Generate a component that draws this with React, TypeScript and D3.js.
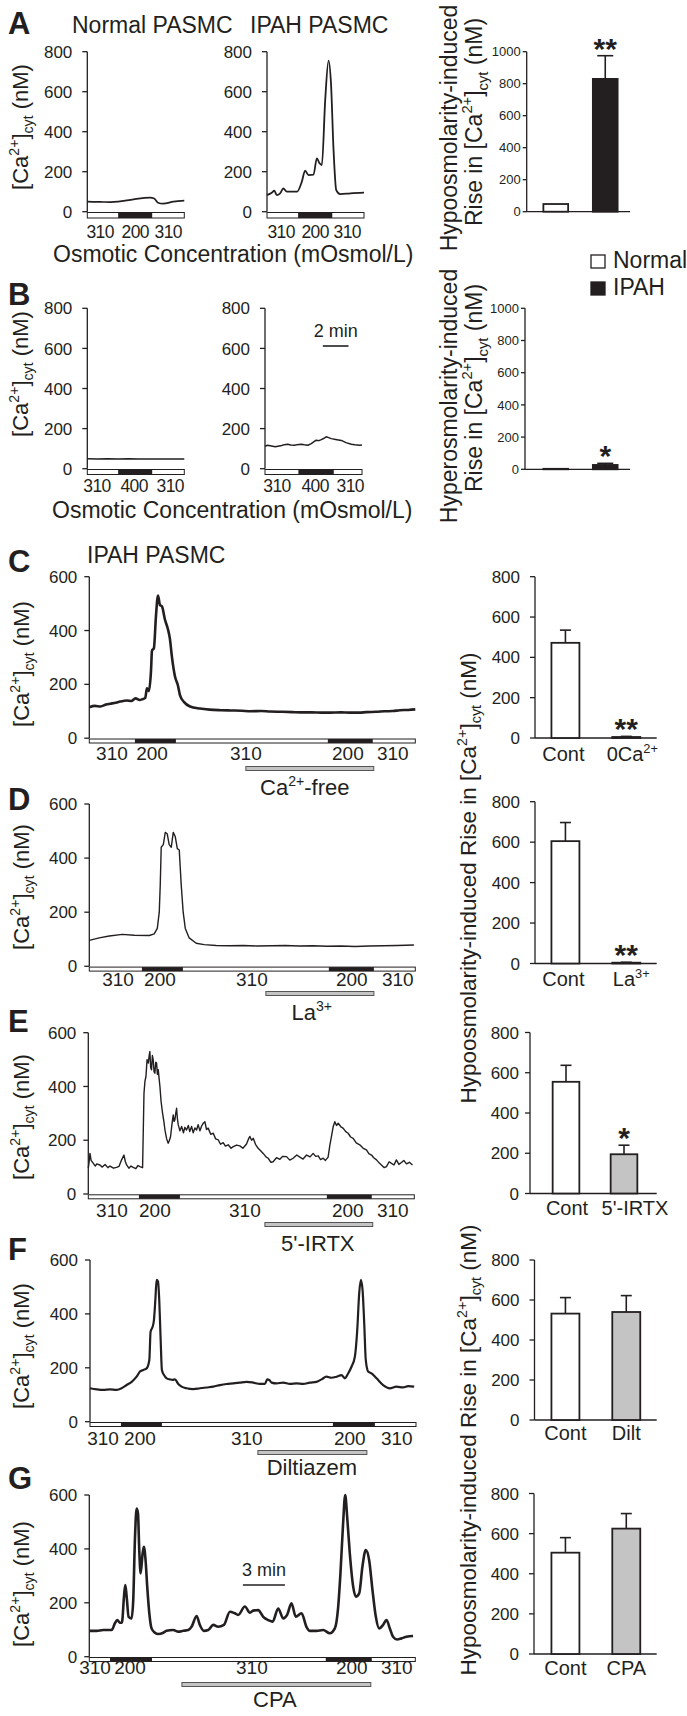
import React from 'react';
import * as d3 from 'd3';

type P = [number, number];
type Seg = { t: string; k?: 'sup' | 'sub' };

const FONT = '"Liberation Sans", Arial, Helvetica, sans-serif';
const INK = '#231f20';
const GRAY = '#c4c4c4';

// ---------------- Trace data: [time (min), [Ca2+]cyt (nM)] ----------------
const A_NORMAL: P[] = [[0,50],[1.0,49],[1.8,48],[2.4,50],[3.6,62],[4.9,70],[5.2,66],[5.5,45],[5.9,40],[6.7,50],[7.55,55]];
const A_IPAH: P[] = [[0,83],[0.37,95],[0.57,105],[0.76,83],[1.0,90],[1.17,108],[1.27,117],[1.54,100],[2.34,100],[2.71,150],[2.97,205],[3.23,183],[3.62,185],[3.88,267],[4.09,242],[4.27,233],[4.53,558],[4.79,755],[4.98,642],[5.18,308],[5.39,108],[5.7,88],[6.5,92],[7.55,95]];
const B_NORMAL: P[] = [[0,50],[0.8,49],[1.6,50],[2.4,49],[3.2,50],[4.0,48],[4.8,49],[5.6,48],[6.4,49],[7.2,48],[7.55,48]];
const B_IPAH: P[] = [[0,112],[0.2,117],[0.5,113],[0.8,109],[1.0,112],[1.3,116],[1.5,120],[1.77,122],[2.0,118],[2.29,117],[2.5,120],[2.81,122],[3.05,119],[3.34,117],[3.6,125],[3.98,142],[4.2,140],[4.38,145],[4.6,152],[4.77,159],[4.95,155],[5.16,150],[5.5,146],[5.94,141],[6.3,130],[6.72,122],[7.0,119],[7.37,117],[7.55,118]];
const C_TRACE: P[] = [[0,115],[0.4,120],[0.8,118],[1.2,125],[1.5,128],[1.9,132],[2.2,136],[2.7,140],[3.0,138],[3.3,148],[3.6,142],[3.8,145],[4.0,150],[4.12,185],[4.26,175],[4.41,250],[4.48,325],[4.62,335],[4.76,450],[4.91,530],[5.05,495],[5.19,490],[5.41,440],[5.62,405],[5.76,370],[5.91,300],[6.12,230],[6.34,195],[6.48,160],[6.76,135],[7.2,118],[7.9,110],[8.6,106],[9.4,104],[10.1,103],[10.9,102],[11.5,100],[12.3,101],[12.9,99],[13.8,98],[14.5,97],[15.1,96],[15.9,96],[16.6,95],[17.2,95],[18.0,96],[18.6,95],[19.3,95],[19.8,97],[20.5,98],[21.1,100],[21.7,101],[22.2,104],[22.8,105],[23.3,107]];
const D_TRACE: P[] = [[0,96],[0.71,105],[1.43,112],[2.36,118],[3.21,115],[4.29,114],[4.64,120],[4.86,140],[5.0,200],[5.07,300],[5.14,440],[5.29,450],[5.43,495],[5.57,490],[5.71,450],[5.86,440],[6.0,495],[6.14,480],[6.29,435],[6.43,430],[6.57,300],[6.71,200],[6.86,140],[7.14,105],[7.64,85],[8.21,80],[9.07,77],[10,76],[11,77],[12,75],[13,76],[14,77],[15,75],[16,76],[17,74],[18,75],[19,73],[20,75],[21,76],[22,77],[23.2,79]];
const E_TRACE: P[] = [[0,96],[0.06,120],[0.12,151],[0.2,125],[0.36,114],[0.5,104],[0.6,112],[0.83,108],[1.0,100],[1.2,110],[1.4,98],[1.55,104],[1.8,96],[2.02,99],[2.2,103],[2.38,127],[2.55,145],[2.65,120],[2.74,108],[2.9,96],[3.05,104],[3.21,99],[3.4,94],[3.55,106],[3.69,102],[3.88,98],[3.98,375],[4.05,420],[4.12,437],[4.2,500],[4.29,487],[4.35,515],[4.4,530],[4.46,470],[4.52,462],[4.58,515],[4.64,499],[4.7,455],[4.76,449],[4.82,490],[4.88,487],[4.94,445],[5.0,462],[5.06,430],[5.12,400],[5.2,345],[5.31,300],[5.4,270],[5.48,238],[5.6,205],[5.71,189],[5.8,200],[5.88,214],[5.98,260],[6.07,294],[6.13,270],[6.19,276],[6.25,300],[6.31,319],[6.37,280],[6.43,257],[6.55,235],[6.67,251],[6.8,228],[6.9,248],[7.02,238],[7.15,255],[7.25,232],[7.38,251],[7.5,228],[7.62,246],[7.74,238],[7.85,258],[7.98,235],[8.1,253],[8.2,262],[8.33,269],[8.45,240],[8.57,245],[8.75,222],[8.93,226],[9.1,205],[9.29,201],[9.45,185],[9.64,191],[9.8,178],[10.0,183],[10.2,170],[10.36,176],[10.6,182],[10.83,179],[11.05,170],[11.31,186],[11.45,205],[11.55,214],[11.67,200],[11.79,207],[11.95,185],[12.14,170],[12.3,162],[12.5,151],[12.7,138],[12.86,133],[13.05,118],[13.21,120],[13.45,135],[13.69,129],[13.9,140],[14.17,139],[14.4,126],[14.64,133],[14.9,145],[15.12,137],[15.35,130],[15.6,145],[15.85,138],[16.07,151],[16.25,140],[16.43,142],[16.6,128],[16.79,133],[16.95,125],[17.14,137],[17.26,180],[17.38,214],[17.5,250],[17.62,269],[17.74,255],[17.86,263],[18.05,250],[18.21,245],[18.4,232],[18.57,226],[18.75,212],[18.93,207],[19.15,190],[19.4,183],[19.65,170],[19.88,164],[20.05,150],[20.24,145],[20.4,135],[20.6,127],[20.8,115],[20.95,108],[21.15,98],[21.31,102],[21.5,120],[21.67,114],[21.85,108],[22.02,127],[22.2,110],[22.38,117],[22.55,125],[22.74,112],[22.95,118],[23.17,108]];
const F_TRACE: P[] = [[0,124],[0.48,120],[0.95,118],[1.43,120],[1.9,118],[2.26,124],[2.62,136],[2.98,148],[3.33,167],[3.57,186],[3.81,192],[4.05,198],[4.24,229],[4.33,334],[4.48,353],[4.57,377],[4.67,451],[4.76,526],[4.86,520],[4.95,451],[5.05,303],[5.14,192],[5.29,173],[5.48,161],[5.71,157],[5.9,155],[6.07,157],[6.31,140],[6.55,130],[6.9,124],[7.38,121],[7.86,124],[8.33,127],[8.81,130],[9.29,136],[9.76,140],[10.24,142],[10.71,145],[11.19,148],[11.67,145],[12.14,140],[12.5,140],[12.67,157],[12.81,155],[12.98,145],[13.33,142],[13.81,145],[14.29,140],[14.76,142],[15.24,140],[15.71,145],[16.19,148],[16.55,157],[16.9,167],[17.26,163],[17.62,167],[17.98,173],[18.21,161],[18.45,179],[18.69,204],[18.93,241],[19.1,340],[19.24,476],[19.36,526],[19.48,489],[19.6,365],[19.71,229],[19.88,186],[20.12,179],[20.48,161],[20.95,136],[21.43,124],[21.9,130],[22.38,127],[22.74,132],[23.17,130]];
const G_TRACE: P[] = [[0,96],[0.52,96],[1.0,99],[1.6,99],[1.83,124],[2.0,136],[2.19,126],[2.33,126],[2.48,223],[2.57,266],[2.67,223],[2.81,148],[3.02,142],[3.14,210],[3.26,433],[3.38,550],[3.48,532],[3.57,396],[3.67,309],[3.81,383],[3.9,408],[4.02,359],[4.14,260],[4.29,161],[4.45,105],[4.69,89],[4.93,84],[5.29,89],[5.52,96],[6.0,99],[6.36,93],[6.71,96],[7.07,99],[7.31,111],[7.67,151],[7.9,118],[8.19,96],[8.5,99],[8.86,118],[9.21,111],[9.62,118],[10.05,167],[10.4,161],[10.64,155],[11.12,186],[11.48,163],[11.71,171],[12.07,173],[12.43,148],[12.79,136],[13.1,130],[13.5,179],[13.86,142],[14.14,155],[14.45,198],[14.76,148],[15.17,161],[15.52,111],[15.76,96],[16.24,96],[16.71,99],[17.19,87],[17.55,105],[17.79,186],[17.95,309],[18.14,495],[18.29,600],[18.43,519],[18.62,383],[18.86,260],[19.05,223],[19.29,235],[19.52,334],[19.76,396],[20.0,359],[20.24,247],[20.48,148],[20.71,105],[21.0,118],[21.24,136],[21.48,105],[21.71,74],[22.0,64],[22.31,68],[22.67,74],[23.14,77]];

// ---------------- Osmotic protocol (black = hypo/hyper segment, min) ----------------
const OSMO_A_N: P[] = [[2.4, 5.05]];
const OSMO_A_I: P[] = [[2.42, 5.08]];
const OSMO_B_N: P[] = [[2.4, 5.05]];
const OSMO_B_I: P[] = [[2.6, 5.35]];
const OSMO_C: P[] = [[3.26, 6.19], [17.05, 20.26]];
const OSMO_D: P[] = [[3.76, 6.69], [17.12, 20.34]];
const OSMO_E: P[] = [[3.62, 6.55], [17.05, 20.26]];
const OSMO_F: P[] = [[2.21, 5.14], [17.36, 20.36]];
const OSMO_G: P[] = [[1.48, 4.48], [16.9, 20.19]];

const LAB_HYPO_3 = ['310', '200', '310'];
const LAB_HYPER_3 = ['310', '400', '310'];
const LAB_5 = ['310', '200', '310', '200', '310'];
const LABT_A_N = [1.0, 3.73, 6.3];
const LABT_A_I = [1.1, 3.75, 6.25];
const LABT_B_N = [0.76, 3.65, 6.46];
const LABT_B_I = [0.94, 3.9, 6.64];
const LABT_C = [1.62, 4.48, 11.19, 18.48, 21.69];
const LABT_D = [2.05, 5.05, 11.62, 18.76, 22.05];
const LABT_E = [1.69, 4.76, 11.19, 18.55, 21.76];
const LABT_F = [0.93, 3.57, 11.21, 18.57, 21.93];
const LABT_G = [0.41, 2.91, 11.62, 18.76, 21.98];

// drug application bars (min)
const DRUG_C: P = [11.19, 20.33];
const DRUG_D: P = [12.62, 20.34];
const DRUG_E: P = [12.62, 20.33];
const DRUG_F: P = [12.0, 19.79];
const DRUG_G: P = [6.62, 20.12];

// ---------------- Bar data (mean ± SE, nM) ----------------
const BAR_A_CATS = ['Normal', 'IPAH'];
const BAR_A_MEAN = [48, 830];
const BAR_A_ERR = [0, 145];
const BAR_B_MEAN = [3, 27];
const BAR_B_ERR = [0, 10];
const BAR_C_CATS = ['Cont', '0Ca'];
const BAR_C_MEAN = [472, 5];
const BAR_C_ERR = [63, 3];
const BAR_D_CATS = ['Cont', 'La'];
const BAR_D_MEAN = [605, 4];
const BAR_D_ERR = [92, 2];
const BAR_E_CATS = ['Cont', "5'-IRTX"];
const BAR_E_MEAN = [555, 195];
const BAR_E_ERR = [82, 45];
const BAR_F_CATS = ['Cont', 'Dilt'];
const BAR_F_MEAN = [532, 540];
const BAR_F_ERR = [80, 82];
const BAR_G_CATS = ['Cont', 'CPA'];
const BAR_G_MEAN = [505, 625];
const BAR_G_ERR = [75, 75];

const TICKS_TRACE_AB = [0, 200, 400, 600, 800];
const TICKS_TRACE = [0, 200, 400, 600];
const TICKS_BAR_AB = [0, 200, 400, 600, 800, 1000];
const TICKS_BAR = [0, 200, 400, 600, 800];

const CA_SEGS: Seg[] = [{ t: '[Ca' }, { t: '2+', k: 'sup' }, { t: ']' }, { t: 'cyt', k: 'sub' }, { t: ' (nM)' }];
const RISE_SEGS: Seg[] = [{ t: 'Rise in [Ca' }, { t: '2+', k: 'sup' }, { t: ']' }, { t: 'cyt', k: 'sub' }, { t: ' (nM)' }];
const HYPO_FULL: Seg[] = [{ t: 'Hypoosmolarity-induced Rise in [Ca' }, { t: '2+', k: 'sup' }, { t: ']' }, { t: 'cyt', k: 'sub' }, { t: ' (nM)' }];

function Rich({ segs, size }: { segs: Seg[]; size: number }) {
  let cur = 0;
  return (
    <>
      {segs.map((s, i) => {
        const target = s.k === 'sup' ? -0.42 * size : s.k === 'sub' ? 0.24 * size : 0;
        const dy = target - cur;
        cur = target;
        return (
          <tspan key={i} dy={dy} fontSize={s.k ? size * 0.64 : size}>
            {s.t}
          </tspan>
        );
      })}
    </>
  );
}

function VText({ x, y, segs, size }: { x: number; y: number; segs: Seg[]; size: number }) {
  return (
    <text transform={`translate(${x},${y}) rotate(-90)`} textAnchor="middle" fontSize={size}>
      <Rich segs={segs} size={size} />
    </text>
  );
}

type TraceProps = {
  ax: number; width: number; tMax: number;
  y0: number; yTop: number; vTop: number; ticks: number[];
  data: P[]; sw: number; curve: d3.CurveFactory;
  segs: P[]; labT: number[]; labs: string[]; labY: number; labFont?: number; labSpacing?: number;
  barH?: number; tickGap?: number;
  drug?: P; drugY?: number; drugLabel?: Seg[]; drugLabT?: number; drugLabY?: number;
  scaleBar?: P; scaleY?: number; scaleText?: string;
};

function Trace(p: TraceProps) {
  const x = d3.scaleLinear().domain([0, p.tMax]).range([p.ax, p.ax + p.width]);
  const y = d3.scaleLinear().domain([0, p.vTop]).range([p.y0, p.yTop]);
  const line = d3.line<P>().x(d => x(d[0])).y(d => y(d[1])).curve(p.curve);
  const bh = p.barH ?? 4.5;
  const gap = p.tickGap ?? 12;
  return (
    <g>
      <line x1={p.ax} x2={p.ax} y1={y(p.vTop)} y2={p.y0} stroke={INK} strokeWidth={1.3} />
      {p.ticks.map(t => (
        <g key={t}>
          <line x1={p.ax - 5} x2={p.ax} y1={y(t)} y2={y(t)} stroke={INK} strokeWidth={1.3} />
          <text x={p.ax - gap} y={y(t)} dy="0.36em" textAnchor="end" fontSize={17}>{t}</text>
        </g>
      ))}
      <rect x={x(0)} y={p.y0 + 0.8} width={x(p.tMax) - x(0)} height={bh} fill="#fff" stroke={INK} strokeWidth={1} />
      {p.segs.map((s, i) => (
        <rect key={i} x={x(s[0])} y={p.y0 + 0.8} width={x(s[1]) - x(s[0])} height={bh} fill={INK} />
      ))}
      {p.labT.map((t, i) => (
        <text key={i} x={x(t)} y={p.labY} textAnchor="middle" fontSize={p.labFont ?? 19}
          letterSpacing={p.labSpacing ?? 0}>{p.labs[i]}</text>
      ))}
      {p.drug && (
        <rect x={x(p.drug[0])} y={p.drugY} width={x(p.drug[1]) - x(p.drug[0])} height={4} fill={GRAY} stroke="#555" strokeWidth={1} />
      )}
      {p.drugLabel && (
        <text x={x(p.drugLabT ?? 0)} y={p.drugLabY} textAnchor="middle" fontSize={22}>
          <Rich segs={p.drugLabel} size={22} />
        </text>
      )}
      {p.scaleBar && (
        <g>
          <line x1={x(p.scaleBar[0])} x2={x(p.scaleBar[1])} y1={p.scaleY} y2={p.scaleY} stroke={INK} strokeWidth={1.6} />
          <text x={(x(p.scaleBar[0]) + x(p.scaleBar[1])) / 2} y={(p.scaleY ?? 0) - 9} textAnchor="middle" fontSize={18}>{p.scaleText}</text>
        </g>
      )}
      <path d={line(p.data) ?? ''} fill="none" stroke={INK} strokeWidth={p.sw} strokeLinejoin="round" />
    </g>
  );
}

type BarProps = {
  ax: number; xEnd: number; band: P; pi: number; po: number;
  y0: number; yTop: number; vTop: number; ticks: number[];
  tickFont: number; tickLen: number; tickGap: number;
  cats: string[]; means: number[]; errs: number[]; fills: string[];
  capW: number; stars?: string[]; starSize?: number;
  catLabels?: Seg[][]; catY?: number; catDx?: number[];
};

function BarChart(p: BarProps) {
  const y = d3.scaleLinear().domain([0, p.vTop]).range([p.y0, p.yTop]);
  const xb = d3.scaleBand<string>().domain(p.cats).range(p.band).paddingInner(p.pi).paddingOuter(p.po);
  const bw = xb.bandwidth();
  return (
    <g>
      <line x1={p.ax} x2={p.ax} y1={y(p.vTop)} y2={p.y0} stroke={INK} strokeWidth={1.3} />
      <line x1={p.ax} x2={p.xEnd} y1={p.y0} y2={p.y0} stroke={INK} strokeWidth={1.3} />
      {p.ticks.map(t => (
        <g key={t}>
          <line x1={p.ax - p.tickLen} x2={p.ax} y1={y(t)} y2={y(t)} stroke={INK} strokeWidth={1.3} />
          <text x={p.ax - p.tickGap} y={y(t)} dy="0.36em" textAnchor="end" fontSize={p.tickFont}>{t}</text>
        </g>
      ))}
      {p.cats.map((c, i) => {
        const x0 = xb(c) ?? 0;
        const cx = x0 + bw / 2;
        const top = y(p.means[i]);
        const et = y(p.means[i] + p.errs[i]);
        return (
          <g key={c}>
            {p.errs[i] > 0 && (
              <g>
                <line x1={cx} x2={cx} y1={top} y2={et} stroke={INK} strokeWidth={1.6} />
                <line x1={cx - p.capW / 2} x2={cx + p.capW / 2} y1={et} y2={et} stroke={INK} strokeWidth={1.6} />
              </g>
            )}
            <rect x={x0} y={top} width={bw} height={p.y0 - top} fill={p.fills[i]} stroke={INK} strokeWidth={1.8} />
            {p.stars && p.stars[i] && (
              <text x={cx} y={et + 3} textAnchor="middle" fontSize={p.starSize ?? 30} fontWeight="bold">{p.stars[i]}</text>
            )}
            {p.catLabels && (
              <text x={cx + (p.catDx ? p.catDx[i] : 0)} y={p.catY} textAnchor="middle" fontSize={20}>
                <Rich segs={p.catLabels[i]} size={20} />
              </text>
            )}
          </g>
        );
      })}
    </g>
  );
}

const LETTER = (l: string, yb: number) => (
  <text x={8} y={yb} fontSize={31} fontWeight="bold">{l}</text>
);

export default function App() {
  const TW = 326;
  const TM = 23.3;
  const cgBand: P = [535, 656.7];
  return (
    <svg width={687} height={1716} style={{ position: 'absolute', left: 0, top: 0, background: '#fff' }}
      fontFamily={FONT} fill={INK}>
      <rect width={687} height={1716} fill="#fff" />

      {/* ---------------- A ---------------- */}
      {LETTER('A', 34)}
      <text x={72} y={33} fontSize={23}>Normal PASMC</text>
      <text x={250} y={33} fontSize={23}>IPAH PASMC</text>
      <VText x={28} y={127} segs={CA_SEGS} size={22} />
      <Trace ax={87.3} width={97} tMax={7.55} y0={211.7} yTop={51.7} vTop={800} ticks={TICKS_TRACE_AB}
        data={A_NORMAL} sw={1.7} curve={d3.curveMonotoneX} segs={OSMO_A_N} labT={LABT_A_N} labs={LAB_HYPO_3} labY={238}
        labFont={17.5} labSpacing={-0.6} barH={5.5} tickGap={15} />
      <Trace ax={267} width={97} tMax={7.55} y0={211.7} yTop={51.7} vTop={800} ticks={TICKS_TRACE_AB}
        data={A_IPAH} sw={1.8} curve={d3.curveMonotoneX} segs={OSMO_A_I} labT={LABT_A_I} labs={LAB_HYPO_3} labY={238}
        labFont={17.5} labSpacing={-0.6} barH={5.5} tickGap={15} />
      <text x={53} y={262} fontSize={23}>Osmotic Concentration (mOsmol/L)</text>
      <text transform="translate(457,128) rotate(-90)" textAnchor="middle" fontSize={23}>Hypoosmolarity-induced</text>
      <VText x={482} y={122} segs={RISE_SEGS} size={23} />
      <BarChart ax={526.7} xEnd={630} band={[531, 630]} pi={0.5} po={0.25} y0={211.7} yTop={51.7} vTop={1000}
        ticks={TICKS_BAR_AB} tickFont={13} tickLen={4} tickGap={6} cats={BAR_A_CATS} means={BAR_A_MEAN} errs={BAR_A_ERR}
        fills={['#fff', INK]} capW={16} stars={['', '**']} />

      {/* legend */}
      <rect x={591} y={255} width={14} height={13} fill="#fff" stroke={INK} strokeWidth={1.3} />
      <text x={613} y={268} fontSize={23}>Normal</text>
      <rect x={591} y={282} width={14} height={13} fill={INK} stroke={INK} strokeWidth={1.3} />
      <text x={613} y={295} fontSize={23}>IPAH</text>

      {/* ---------------- B ---------------- */}
      {LETTER('B', 305)}
      <VText x={28} y={374} segs={CA_SEGS} size={22} />
      <Trace ax={87.3} width={97} tMax={7.55} y0={468.7} yTop={308.3} vTop={800} ticks={TICKS_TRACE_AB}
        data={B_NORMAL} sw={1.5} curve={d3.curveLinear} segs={OSMO_B_N} labT={LABT_B_N} labs={LAB_HYPER_3} labY={492}
        labFont={17.5} labSpacing={-0.6} barH={5} tickGap={15} />
      <Trace ax={265} width={97} tMax={7.55} y0={468.7} yTop={308.3} vTop={800} ticks={TICKS_TRACE_AB}
        data={B_IPAH} sw={1.5} curve={d3.curveLinear} segs={OSMO_B_I} labT={LABT_B_I} labs={LAB_HYPER_3} labY={492}
        labFont={17.5} labSpacing={-0.6} barH={5} tickGap={15}
        scaleBar={[4.5, 6.5]} scaleY={346} scaleText="2 min" />
      <text x={52} y={518} fontSize={23}>Osmotic Concentration (mOsmol/L)</text>
      <text transform="translate(457,396) rotate(-90)" textAnchor="middle" fontSize={23}>Hyperosmolarity-induced</text>
      <VText x={482} y={388} segs={RISE_SEGS} size={23} />
      <BarChart ax={525} xEnd={630} band={[531, 630]} pi={0.5} po={0.25} y0={469.3} yTop={308.3} vTop={1000}
        ticks={TICKS_BAR_AB} tickFont={13} tickLen={4} tickGap={6} cats={BAR_A_CATS} means={BAR_B_MEAN} errs={BAR_B_ERR}
        fills={['#fff', INK]} capW={16} stars={['', '*']} />

      {/* ---------------- C ---------------- */}
      {LETTER('C', 572)}
      <text x={87} y={563} fontSize={23}>IPAH PASMC</text>
      <VText x={29} y={664} segs={CA_SEGS} size={22} />
      <Trace ax={89.3} width={TW} tMax={TM} y0={738.2} yTop={576.7} vTop={600} ticks={TICKS_TRACE}
        data={C_TRACE} sw={2.6} curve={d3.curveMonotoneX} segs={OSMO_C} labT={LABT_C} labs={LAB_5} labY={760} barH={4}
        drug={DRUG_C} drugY={766.5} drugLabel={[{ t: 'Ca' }, { t: '2+', k: 'sup' }, { t: '-free' }]} drugLabT={15.4} drugLabY={795} />
      <BarChart ax={535} xEnd={656.7} band={cgBand} pi={0.54} po={0.27} y0={738} yTop={576.7} vTop={800}
        ticks={TICKS_BAR} tickFont={17} tickLen={5} tickGap={15} cats={BAR_C_CATS} means={BAR_C_MEAN} errs={BAR_C_ERR}
        fills={['#fff', GRAY]} capW={11} stars={['', '**']}
        catLabels={[[{ t: 'Cont' }], [{ t: '0Ca' }, { t: '2+', k: 'sup' }]]} catY={761} catDx={[-2, 6]} />
      <VText x={476} y={878} segs={HYPO_FULL} size={22.5} />

      {/* ---------------- D ---------------- */}
      {LETTER('D', 810)}
      <VText x={29} y={887} segs={CA_SEGS} size={22} />
      <Trace ax={89.3} width={TW} tMax={TM} y0={966.3} yTop={804} vTop={600} ticks={TICKS_TRACE}
        data={D_TRACE} sw={1.4} curve={d3.curveLinear} segs={OSMO_D} labT={LABT_D} labs={LAB_5} labY={986} barH={4}
        drug={DRUG_D} drugY={991.5} drugLabel={[{ t: 'La' }, { t: '3+', k: 'sup' }]} drugLabT={15.9} drugLabY={1020} />
      <BarChart ax={535} xEnd={656.7} band={cgBand} pi={0.54} po={0.27} y0={963.5} yTop={801.7} vTop={800}
        ticks={TICKS_BAR} tickFont={17} tickLen={5} tickGap={15} cats={BAR_D_CATS} means={BAR_D_MEAN} errs={BAR_D_ERR}
        fills={['#fff', GRAY]} capW={11} stars={['', '**']}
        catLabels={[[{ t: 'Cont' }], [{ t: 'La' }, { t: '3+', k: 'sup' }]]} catY={986} catDx={[-2, 5]} />

      {/* ---------------- E ---------------- */}
      {LETTER('E', 1032)}
      <VText x={29} y={1117} segs={CA_SEGS} size={22} />
      <Trace ax={88.3} width={TW} tMax={TM} y0={1194} yTop={1032.7} vTop={600} ticks={TICKS_TRACE}
        data={E_TRACE} sw={1.4} curve={d3.curveLinear} segs={OSMO_E} labT={LABT_E} labs={LAB_5} labY={1217} barH={4}
        drug={DRUG_E} drugY={1222.5} drugLabel={[{ t: "5'-IRTX" }]} drugLabT={16.4} drugLabY={1251} />
      <BarChart ax={530} xEnd={656.7} band={[537, 653]} pi={0.54} po={0.27} y0={1193.5} yTop={1032.5} vTop={800}
        ticks={TICKS_BAR} tickFont={17} tickLen={5} tickGap={11} cats={BAR_E_CATS} means={BAR_E_MEAN} errs={BAR_E_ERR}
        fills={['#fff', GRAY]} capW={11} stars={['', '*']}
        catLabels={[[{ t: 'Cont' }], [{ t: "5'-IRTX" }]]} catY={1215} catDx={[1, 11]} />

      {/* ---------------- F ---------------- */}
      {LETTER('F', 1260)}
      <VText x={29} y={1346} segs={CA_SEGS} size={22} />
      <Trace ax={90} width={TW} tMax={TM} y0={1421.7} yTop={1260} vTop={600} ticks={TICKS_TRACE}
        data={F_TRACE} sw={2.2} curve={d3.curveMonotoneX} segs={OSMO_F} labT={LABT_F} labs={LAB_5} labY={1445} barH={4}
        drug={DRUG_F} drugY={1450.5} drugLabel={[{ t: 'Diltiazem' }]} drugLabT={15.86} drugLabY={1475} />
      <BarChart ax={534.5} xEnd={656.7} band={cgBand} pi={0.54} po={0.27} y0={1420} yTop={1260} vTop={800}
        ticks={TICKS_BAR} tickFont={17} tickLen={5} tickGap={15} cats={BAR_F_CATS} means={BAR_F_MEAN} errs={BAR_F_ERR}
        fills={['#fff', GRAY]} capW={11}
        catLabels={[[{ t: 'Cont' }], [{ t: 'Dilt' }]]} catY={1440} />
      <VText x={476} y={1450} segs={HYPO_FULL} size={22.5} />

      {/* ---------------- G ---------------- */}
      {LETTER('G', 1489)}
      <VText x={29} y={1584} segs={CA_SEGS} size={22} />
      <Trace ax={89.3} width={TW} tMax={TM} y0={1656.7} yTop={1495} vTop={600} ticks={TICKS_TRACE}
        data={G_TRACE} sw={2.6} curve={d3.curveMonotoneX} segs={OSMO_G} labT={LABT_G} labs={LAB_5} labY={1674} barH={4}
        drug={DRUG_G} drugY={1682.5} drugLabel={[{ t: 'CPA' }]} drugLabT={13.26} drugLabY={1707}
        scaleBar={[10.98, 13.98]} scaleY={1585} scaleText="3 min" />
      <BarChart ax={534} xEnd={656.7} band={cgBand} pi={0.54} po={0.27} y0={1654} yTop={1493.5} vTop={800}
        ticks={TICKS_BAR} tickFont={17} tickLen={5} tickGap={15} cats={BAR_G_CATS} means={BAR_G_MEAN} errs={BAR_G_ERR}
        fills={['#fff', GRAY]} capW={11}
        catLabels={[[{ t: 'Cont' }], [{ t: 'CPA' }]]} catY={1675} />
    </svg>
  );
}
